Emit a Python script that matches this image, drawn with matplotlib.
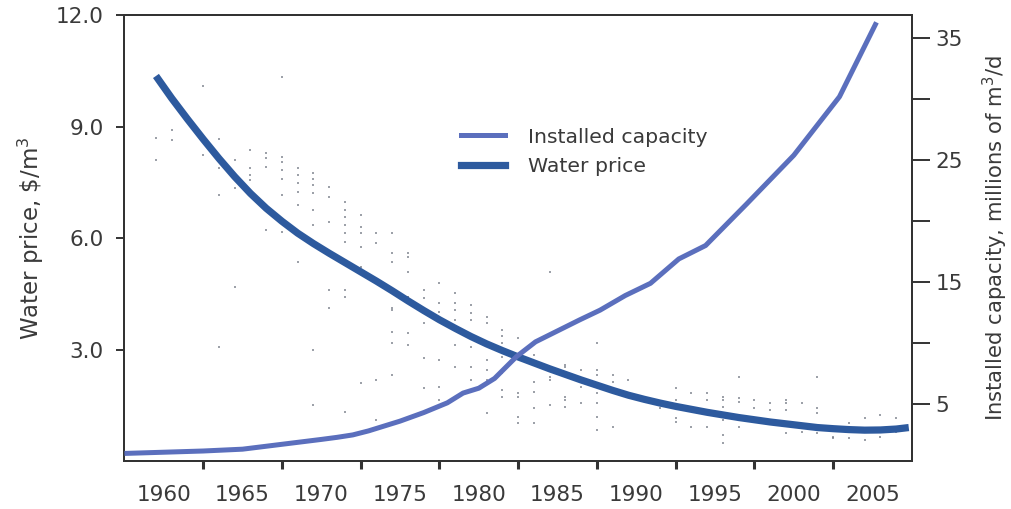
import numpy as np
import matplotlib
matplotlib.use("Agg")
import matplotlib.pyplot as plt
from matplotlib.lines import Line2D

# Water price ($/m3), smoothed trend
price_years = [1959.5, 1960.5, 1961.5, 1962.5, 1963.5, 1964.5, 1965.5, 1966.5, 1967.5,
               1968.5, 1969.5, 1970.5, 1971.5, 1972.5, 1973.5, 1974.5, 1975.5, 1976.5,
               1977.5, 1978.5, 1979.5, 1980.5, 1981.5, 1982.5, 1983.5, 1984.5, 1985.5,
               1986.5, 1987.5, 1988.5, 1989.5, 1990.5, 1991.5, 1992.5, 1993.5, 1994.5,
               1995.5, 1996.5, 1997.5, 1998.5, 1999.5, 2000.5, 2001.5, 2002.5, 2003.5,
               2004.5, 2005.5, 2006.5, 2007.3]
price_values = [10.36, 9.76, 9.2, 8.66, 8.14, 7.65, 7.2, 6.8, 6.45,
                6.13, 5.85, 5.59, 5.34, 5.09, 4.84, 4.58, 4.31, 4.05,
                3.8, 3.57, 3.35, 3.15, 2.97, 2.8, 2.64, 2.48, 2.33,
                2.18, 2.04, 1.9, 1.77, 1.66, 1.56, 1.47, 1.39, 1.31,
                1.24, 1.17, 1.11, 1.05, 1.0, 0.95, 0.9, 0.87, 0.845,
                0.83, 0.835, 0.86, 0.9]

# Installed capacity (millions of m3/d)
cap_years = [1957.5, 1960, 1962.5, 1965, 1967.5, 1970, 1971, 1972, 1973, 1974,
             1975, 1976.5, 1978, 1979, 1980, 1981, 1982.4, 1983.6, 1985, 1986.4,
             1987.7, 1989.3, 1990.9, 1992.7, 1994.4, 1997, 2000, 2002.9, 2005.25]
cap_values = [0.95, 1.05, 1.15, 1.3, 1.7, 2.1, 2.27, 2.47, 2.8, 3.2,
              3.6, 4.3, 5.1, 5.9, 6.3, 7.1, 8.9, 10.1, 11.0, 11.9,
              12.7, 13.9, 14.9, 16.9, 18.0, 21.4, 25.4, 30.2, 36.3]

# individual price observations (year, $/m3)
obs_years = [1959.5, 1959.5, 1960.5, 1960.5, 1962.5, 1962.5, 1963.5, 1963.5, 1963.5, 1963.5,
             1964.5, 1964.5, 1964.5, 1965.5, 1965.5, 1965.5, 1965.5,
             1966.5, 1966.5, 1966.5, 1966.5,
             1967.5, 1967.5, 1967.5, 1967.5, 1967.5, 1967.5, 1967.5,
             1968.5, 1968.5, 1968.5, 1968.5, 1968.5, 1968.5,
             1969.5, 1969.5, 1969.5, 1969.5, 1969.5, 1969.5, 1969.5, 1969.5,
             1970.5, 1970.5, 1970.5, 1970.5, 1970.5,
             1971.5, 1971.5, 1971.5, 1971.5, 1971.5, 1971.5, 1971.5, 1971.5, 1971.5, 1971.5,
             1972.5, 1972.5, 1972.5, 1972.5, 1972.5, 1972.5,
             1973.5, 1973.5, 1973.5, 1973.5, 1973.5,
             1974.5, 1974.5, 1974.5, 1974.5, 1974.5, 1974.5, 1974.5, 1974.5,
             1975.5, 1975.5, 1975.5, 1975.5, 1975.5, 1975.5, 1975.5,
             1976.5, 1976.5, 1976.5, 1976.5, 1976.5,
             1977.5, 1977.5, 1977.5, 1977.5, 1977.5, 1977.5,
             1978.5, 1978.5, 1978.5, 1978.5, 1978.5, 1978.5,
             1979.5, 1979.5, 1979.5, 1979.5, 1979.5, 1979.5,
             1980.5, 1980.5, 1980.5, 1980.5, 1980.5, 1980.5,
             1981.5, 1981.5, 1981.5, 1981.5, 1981.5, 1981.5, 1981.5,
             1982.5, 1982.5, 1982.5, 1982.5, 1982.5, 1982.5,
             1983.5, 1983.5, 1983.5, 1983.5, 1983.5, 1983.5,
             1984.5, 1984.5, 1984.5, 1984.5, 1984.5,
             1985.5, 1985.5, 1985.5, 1985.5, 1985.5,
             1986.5, 1986.5, 1986.5,
             1987.5, 1987.5, 1987.5, 1987.5, 1987.5, 1987.5, 1987.5,
             1988.5, 1988.5, 1988.5, 1989.5, 1991.5,
             1992.5, 1992.5, 1992.5, 1992.5, 1993.5, 1993.5,
             1994.5, 1994.5, 1994.5,
             1995.5, 1995.5, 1995.5, 1995.5, 1995.5, 1995.5,
             1996.5, 1996.5, 1996.5, 1996.5, 1997.5, 1997.5, 1998.5, 1998.5,
             1999.5, 1999.5, 1999.5, 1999.5, 2000.5, 2000.5,
             2001.5, 2001.5, 2001.5, 2001.5, 2002.5, 2002.5, 2002.5,
             2003.5, 2003.5, 2003.5, 2004.5, 2004.5, 2004.5,
             2005.5, 2005.5, 2005.5, 2006.5, 2006.5, 2006.5]
obs_values = [8.68, 8.1, 8.9, 8.65, 10.09, 8.23, 8.66, 7.88, 7.16, 3.07,
              8.1, 7.35, 4.68, 8.37, 7.88, 7.7, 7.56,
              8.28, 8.15, 7.91, 6.22,
              10.32, 8.18, 8.05, 7.83, 7.6, 7.16, 6.16,
              7.88, 7.7, 7.48, 7.24, 6.89, 5.35,
              7.74, 7.6, 7.42, 7.2, 6.75, 6.35, 2.99, 1.51,
              7.37, 7.1, 6.43, 4.6, 4.12,
              6.97, 6.75, 6.57, 6.35, 6.13, 5.9, 5.35, 4.6, 4.41, 1.33,
              6.62, 6.3, 6.13, 5.76, 5.22, 2.09,
              6.13, 5.87, 4.82, 2.17, 1.1,
              6.13, 5.6, 5.35, 4.12, 4.06, 3.48, 3.17, 2.31,
              5.6, 5.49, 5.09, 4.41, 4.42, 3.44, 3.12,
              4.6, 4.38, 3.71, 2.76, 1.96,
              4.78, 4.24, 4.02, 2.72, 2.0, 1.64,
              4.51, 4.24, 4.06, 3.79, 3.12, 2.54,
              4.2, 3.97, 3.79, 3.08, 2.54, 2.18,
              3.88, 3.7, 2.72, 2.45, 2.18, 1.28,
              3.53, 3.35, 3.17, 2.81, 2.36, 1.91, 1.73,
              3.3, 2.76, 1.82, 1.73, 1.19, 1.01,
              2.85, 2.67, 2.13, 1.87, 1.42, 1.01,
              5.09, 2.45, 2.27, 2.18, 1.51,
              2.58, 2.54, 1.73, 1.64, 1.46,
              2.45, 2.0, 1.55,
              3.17, 2.45, 2.31, 1.82, 1.55, 1.19, 0.83,
              2.31, 2.13, 0.92, 2.18, 1.42,
              1.96, 1.64, 1.15, 1.06, 1.82, 0.92,
              1.82, 1.64, 0.92,
              1.73, 1.64, 1.46, 1.1, 0.7, 0.48,
              2.27, 1.69, 1.6, 0.92, 1.64, 1.42, 1.55, 1.37,
              1.64, 1.55, 1.37, 0.75, 1.55, 0.79,
              2.27, 1.42, 1.28, 0.75, 0.92, 0.65, 0.61,
              1.01, 0.79, 0.61, 1.15, 0.79, 0.57,
              1.24, 0.83, 0.65, 1.15, 0.92, 0.79]

year_labels = list(range(1960, 2006, 5))

price_color = "#2d5a9e"
cap_color = "#5b6fbd"
text_color = "#3a3a3a"
spine_color = "#333333"

fig = plt.figure(figsize=(10.11, 5.09), dpi=100)
ax = fig.add_axes([0.1231, 0.0943, 0.7789, 0.8762])
ax2 = ax.twinx()

ax.scatter(obs_years, obs_values, s=4, marker="s", color="#7d828c", alpha=0.75,
           linewidths=0, zorder=1)
ax.plot(price_years, price_values, color=price_color, lw=5.2,
        solid_capstyle="butt", solid_joinstyle="round", zorder=3)
ax2.plot(cap_years, cap_values, color=cap_color, lw=3.6,
         solid_capstyle="butt", solid_joinstyle="round", zorder=3)

ax.set_xlim(1957.5, 2007.5)
ax.set_ylim(0, 12)
ax2.set_ylim(0.33, 36.9)

# x axis: labels centred between tick marks
ax.set_xticks(year_labels)
ax.set_xticklabels([str(y) for y in year_labels])
ax.set_xticks(np.arange(1962.5, 2007.5, 5), minor=True)
ax.tick_params(axis="x", which="major", length=0, pad=17, labelsize=15.5,
               labelcolor=text_color)
ax.tick_params(axis="x", which="minor", length=6, width=2.2, color=spine_color)

ax.set_yticks([3, 6, 9, 12])
ax.set_yticklabels(["3.0", "6.0", "9.0", "12.0"])
ax.tick_params(axis="y", length=6, width=1.4, pad=9, labelsize=15.5,
               labelcolor=text_color, color=spine_color)

ax2.set_yticks([5, 15, 25, 35])
ax2.set_yticks([10, 20, 30], minor=True)
ax2.tick_params(axis="y", which="both", length=13, width=1.4, pad=4,
                labelsize=15.5, labelcolor=text_color, color=spine_color)

ax.set_ylabel("Water price, \\$/m$^3$", fontsize=16.5, color=text_color, labelpad=7)
ax2.set_ylabel("Installed capacity, millions of m$^3$/d", fontsize=15.2,
               color=text_color, labelpad=13)

for a in (ax, ax2):
    for sp in a.spines.values():
        sp.set_color(spine_color)
        sp.set_linewidth(1.4)

handles = [Line2D([], [], color=cap_color, lw=3.6),
           Line2D([], [], color=price_color, lw=5.2)]
fig.legend(handles, ["Installed capacity", "Water price"], loc="upper left",
           bbox_to_anchor=(0.4555, 0.7495), frameon=False, fontsize=14.7,
           handlelength=2.2, handletextpad=1.13, labelspacing=0.5,
           borderpad=0, borderaxespad=0, labelcolor=text_color)

fig.savefig("out.png", dpi=100, facecolor="white")
